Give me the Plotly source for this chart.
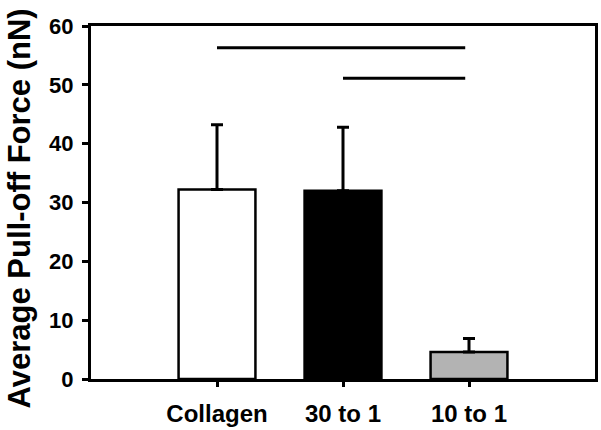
import plotly.graph_objects as go

categories = ["Collagen", "30 to 1", "10 to 1"]
means = [32.2, 32.0, 4.6]
errors = [11.0, 10.8, 2.3]
colors = ["white", "black", "#b3b3b3"]

# significance brackets: (start category index, end, height)
bracket_x0 = [0, 1]
bracket_x1 = [1.97, 1.97]
bracket_y = [56.3, 51.1]

font = dict(family="Liberation Sans, Arial, sans-serif", color="black", weight="bold")

fig = go.Figure(
    go.Bar(
        x=list(range(len(categories))),
        y=means,
        width=0.61,
        marker=dict(color=colors, line=dict(color="black", width=2.5)),
        error_y=dict(type="data", array=errors, arrayminus=[0] * len(errors),
                     symmetric=False, color="black", thickness=3, width=6),
    )
)

for x0, x1, y in zip(bracket_x0, bracket_x1, bracket_y):
    fig.add_shape(type="line", xref="x", yref="y", x0=x0, x1=x1, y0=y, y1=y,
                  line=dict(color="black", width=3))

# y title as an annotation so it can sit right at the left edge
fig.add_annotation(
    text="Average Pull-off Force (nN)", textangle=-90,
    xref="paper", yref="paper", x=0, y=0.5, xanchor="center", yanchor="middle",
    xshift=-72, yshift=-6, showarrow=False, font=dict(size=31, **font),
)

fig.update_layout(
    width=601,
    height=430,
    margin=dict(l=91, r=6, t=26, b=51),
    plot_bgcolor="white",
    paper_bgcolor="white",
    showlegend=False,
    font=font,
    xaxis=dict(
        range=[-1, 3],
        tickvals=list(range(len(categories))),
        ticktext=categories,
        ticks="outside", ticklen=5, tickwidth=2.5, tickcolor="black",
        showline=True, linewidth=3, linecolor="black", mirror=True,
        showgrid=False, zeroline=False, automargin=False,
        ticklabelstandoff=6,
        tickfont=dict(size=24, **font),
    ),
    yaxis=dict(
        range=[0, 60],
        dtick=10,
        ticks="outside", ticklen=6, tickwidth=2.5, tickcolor="black",
        showline=True, linewidth=3, linecolor="black", mirror=True,
        showgrid=False, zeroline=False, automargin=False,
        ticklabelstandoff=4,
        tickfont=dict(size=22, **font),
    ),
)

# page body has a default 8px margin; drop it so the figure fills the window
fig.write_html(
    "out.html",
    config={"displayModeBar": False},
    post_script="document.body.style.margin='0';document.body.style.overflow='hidden';",
)
